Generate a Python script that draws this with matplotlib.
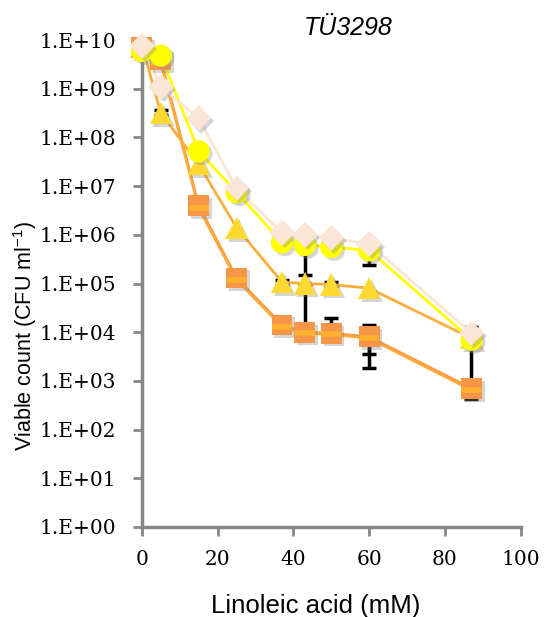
import numpy as np
import matplotlib
matplotlib.use("Agg")
import matplotlib.pyplot as plt
import matplotlib.patheffects as pe
from matplotlib.ticker import FuncFormatter

# linoleic acid concentration (mM)
conc = [0, 5, 15, 25, 37, 43, 50, 60, 87]

# viable counts (CFU/ml) per series
diamond = [7.5e9, 1.1e9, 2.5e8, 9e6, 1.1e6, 1.0e6, 8.5e5, 6.5e5, 9.5e3]
circle = [6e9, 4.8e9, 5.2e7, 7.5e6, 7e5, 6.2e5, 5.6e5, 4.8e5, 7e3]
triangle = [8e9, 3.2e8, 2.8e7, 1.4e6, 1.07e5, 1.0e5, 9.5e4, 8e4, 7.5e3]
square = [7e9, 3.9e9, 4e6, 1.3e5, 1.4e4, 1.0e4, 9.5e3, 8e3, 7e2]
dash = [7e9, 3.5e9, 3.6e6, 1.2e5, 1.3e4, 9.5e3, 9e3, 7.5e3, 6.5e2]

# error bar ends (nan = no bar)
nan = np.nan
diamond_lo = [nan, nan, nan, nan, nan, nan, nan, nan, nan]
diamond_hi = [nan, nan, nan, nan, nan, nan, nan, nan, 1.3e4]
circle_lo = [nan, nan, nan, nan, nan, 1.5e5, nan, 2.4e5, nan]
circle_hi = [nan, nan, nan, nan, nan, nan, nan, nan, nan]
triangle_lo = [nan, 2.9e8, nan, nan, 9.5e4, 1.2e4, 9e4, nan, nan]
triangle_hi = [nan, 3.7e8, nan, nan, 1.2e5, nan, 1.05e5, nan, nan]
square_lo = [nan, nan, nan, nan, nan, nan, nan, 1.8e3, 4.3e2]
square_hi = [nan, nan, nan, nan, nan, nan, 2e4, 1.4e4, 6e3]
dash_lo = [nan, nan, nan, nan, nan, nan, nan, 3.5e3, nan]
dash_hi = [nan, nan, nan, nan, nan, nan, nan, nan, nan]

yticks = [10.0 ** k for k in range(0, 11)]
xticks = [0, 20, 40, 60, 80, 100]

fig = plt.figure(figsize=(5.54, 6.17), dpi=100)
ax = fig.add_axes([0.256, 0.146, 0.684, 0.789])

shadow = [pe.SimplePatchShadow(offset=(2, -2), shadow_rgbFace="#888888", alpha=0.35),
          pe.Normal()]


def errbars(y, lo, hi):
    y = np.array(y)
    lo = np.array(lo)
    hi = np.array(hi)
    x = np.array(conc)
    m = ~(np.isnan(lo) & np.isnan(hi))
    low = np.where(np.isnan(lo), y, lo)
    high = np.where(np.isnan(hi), y, hi)
    ax.errorbar(x[m], y[m], yerr=[(y - low)[m], (high - y)[m]], fmt="none",
                ecolor="black", elinewidth=2.5, capsize=5, capthick=2.5,
                zorder=1.5, clip_on=False)


series = [
    (square, square_lo, square_hi, "s", "#F79646", "#F79646", 15, 2),
    (dash, dash_lo, dash_hi, "_", "#FFB02F", "#FFA93A", 15, 2),
    (triangle, triangle_lo, triangle_hi, "^", "#FFD92F", "#FBAE3C", 16, 3),
    (circle, circle_lo, circle_hi, "o", "#FFFF00", "#FFFF00", 16, 4),
    (diamond, diamond_lo, diamond_hi, "D", "#FBE5D6", "#FBE5D6", 13, 5),
]

for y, lo, hi, mk, fc, lc, ms, z in series:
    errbars(y, lo, hi)
    ax.plot(conc, y, color=lc, lw=2, zorder=2, clip_on=False)

for y, lo, hi, mk, fc, lc, ms, z in series:
    if mk == "_":
        ax.plot(conc, y, linestyle="none", marker="_", ms=ms, mew=4,
                color=fc, zorder=z + 0.5, clip_on=False)
    else:
        ax.plot(conc, y, linestyle="none", marker=mk, ms=ms, mfc=fc, mec=fc,
                mew=0, zorder=z, clip_on=False, path_effects=shadow)

ax.set_yscale("log")
ax.set_ylim(1, 1e10)
ax.set_xlim(0, 100)
ax.set_yticks(yticks)
ax.yaxis.set_minor_locator(matplotlib.ticker.NullLocator())
ax.yaxis.set_major_formatter(FuncFormatter(lambda v, p: "1.E+%02d" % int(round(np.log10(v)))))
ax.set_xticks(xticks)

for s in ["top", "right"]:
    ax.spines[s].set_visible(False)
for s in ["left", "bottom"]:
    ax.spines[s].set_color("#878787")
    ax.spines[s].set_linewidth(2.5)

ax.tick_params(axis="both", direction="out", length=6.5, width=2, color="#878787",
               labelsize=14.5, labelcolor="black")
ax.tick_params(axis="y", pad=12)
ax.tick_params(axis="x", pad=10)
for lab in ax.get_xticklabels() + ax.get_yticklabels():
    lab.set_fontfamily("DejaVu Serif")

fig.text(0.57, 0.018, "Linoleic acid (mM)", ha="center", va="center",
         fontsize=18.5, family="Liberation Sans")
fig.text(0.045, 0.455, r"Viable count (CFU ml$^{\mathregular{-1}}$)", ha="center", va="center",
         rotation=90, fontsize=15.5, family="Liberation Sans")
fig.text(0.628, 0.955, "TÜ3298", ha="center", va="center", fontsize=18,
         family="Liberation Sans", style="italic")

fig.savefig("out.png", dpi=100)
